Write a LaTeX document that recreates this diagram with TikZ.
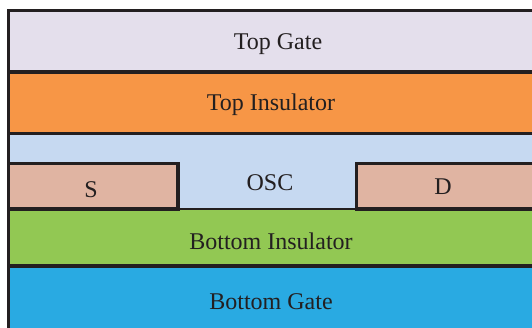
\documentclass[tikz,border=0pt]{standalone}
\usepackage{fontspec}
\setmainfont{Liberation Serif}
\definecolor{tg}{HTML}{E4DFEC}
\definecolor{ti}{HTML}{F79646}
\definecolor{osc}{HTML}{C6D9F1}
\definecolor{sd}{HTML}{E0B4A2}
\definecolor{bi}{HTML}{92C853}
\definecolor{bg}{HTML}{29AAE2}
\definecolor{ln}{HTML}{231F20}
\tikzset{
  thickln/.style={draw=ln,line width=3.6pt},
  thinln/.style={draw=ln,line width=1.6pt},
  lbl/.style={text=ln,font=\fontsize{24}{26}\selectfont,inner sep=0pt,anchor=center}
}
\begin{document}
\begin{tikzpicture}[x=1pt,y=-1pt]
\useasboundingbox (0,0) rectangle (532,327);
\clip (0,0) rectangle (532,327);
\fill[white] (0,0) rectangle (532,327);
% layers
\fill[tg] (8.5,10.3) rectangle (540,72);
\fill[ti] (8.5,72) rectangle (540,133.5);
\fill[osc] (8.5,133.5) rectangle (540,209);
\fill[sd] (8.5,163.5) rectangle (178,209);
\fill[sd] (356.5,163.5) rectangle (540,209);
\fill[bi] (8.5,209) rectangle (540,266);
\fill[bg] (8.5,266) rectangle (540,335);
% lines
\draw[thickln] (8.5,335) -- (8.5,10.3) -- (540,10.3);
\draw[thickln] (8.5,72) -- (540,72);
\draw[thickln] (8.5,133.5) -- (540,133.5);
\draw[thickln] (8.5,163.5) -- (178,163.5) -- (178,209) -- (8.5,209);
\draw[thickln] (540,163.5) -- (356.5,163.5) -- (356.5,209) -- (540,209);
\draw[thinln] (178,209) -- (356.5,209);
\draw[thickln] (8.5,266) -- (540,266);
% labels
\node[lbl] (topgate) at (278,44) {Top Gate};
\node[lbl] (topins) at (271,105) {Top Insulator};
\node[lbl] (osc) at (270,183) {OSC};
\node[lbl] (s) at (91,190) {S};
\node[lbl] (d) at (443,187) {D};
\node[lbl] (botins) at (271,241) {Bottom Insulator};
\node[lbl] (botgate) at (271,302) {Bottom Gate};
\end{tikzpicture}
\end{document}
